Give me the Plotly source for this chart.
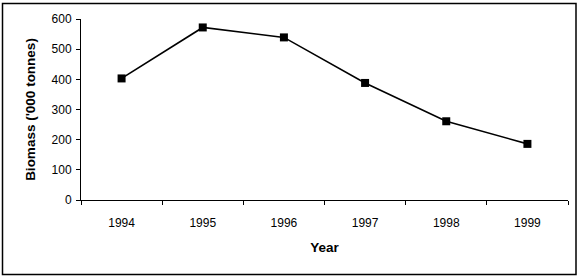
import plotly.graph_objects as go

years = ["1994", "1995", "1996", "1997", "1998", "1999"]
biomass = [403, 572, 539, 388, 261, 186]
y_ticks = [0, 100, 200, 300, 400, 500, 600]

W, H = 580, 278
L, R, T, B = 81, 12, 19, 78
pw, ph = W - L - R, H - T - B

fig = go.Figure(go.Scatter(
    x=years, y=biomass, mode="lines+markers",
    line=dict(color="black", width=1.6),
    marker=dict(symbol="square", size=8, color="black"),
))

def px_x(p):
    return (p - L) / pw

def px_y(p):
    return (H - B - p) / ph

fig.add_shape(type="rect", xref="paper", yref="paper",
              x0=px_x(2.5), x1=px_x(576), y0=px_y(274.5), y1=px_y(3.5),
              line=dict(color="black", width=1.5), fillcolor="rgba(0,0,0,0)")

font = dict(family="Arial, Liberation Sans, sans-serif", size=12, color="black")

fig.update_layout(
    width=W, height=H,
    margin=dict(l=L, r=R, t=T, b=B),
    paper_bgcolor="white", plot_bgcolor="white",
    showlegend=False,
    font=font,
    xaxis=dict(
        type="category", tickson="boundaries", ticks="outside", ticklen=4,
        tickcolor="black", showline=True, linecolor="black", linewidth=1,
        showgrid=False, zeroline=False, range=[-0.5, 5.5],
        ticklabelstandoff=12,
        title=dict(text="<b>Year</b>", standoff=13, font=dict(size=13.5)),
    ),
    yaxis=dict(
        range=[0, 600], tickvals=y_ticks, ticks="outside", ticklen=4,
        tickcolor="black", showline=True, linecolor="black", linewidth=1,
        showgrid=False, zeroline=False, ticklabelstandoff=2,
        title=dict(text="<b>Biomass ('000 tonnes)</b>", standoff=12, font=dict(size=13.5)),
    ),
)

fig.write_html("out.html")
